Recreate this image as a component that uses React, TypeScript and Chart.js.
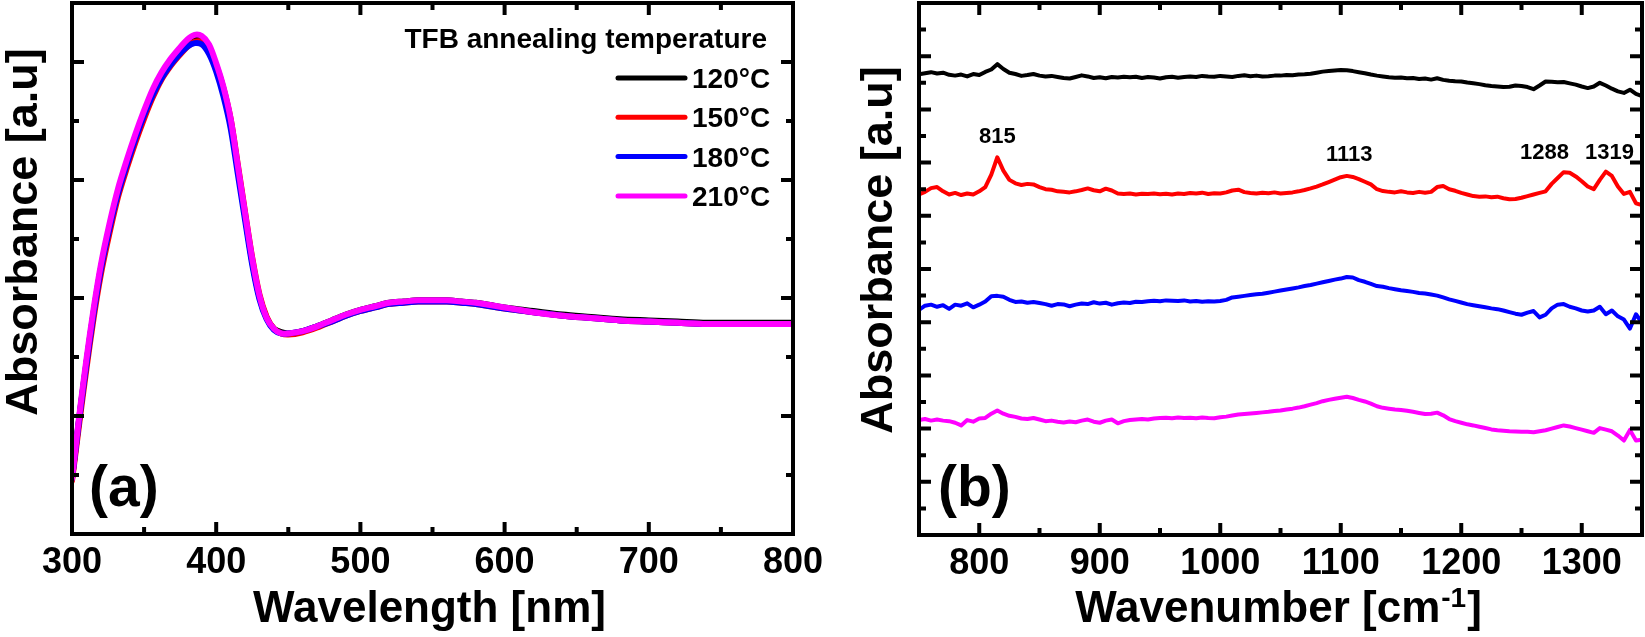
import React, { useEffect, useRef } from "react";
import { Chart, registerables } from "chart.js";

Chart.register(...registerables);

const FONT = '"Liberation Sans", Arial, Helvetica, sans-serif';

const seriesLabels = ["120°C", "150°C", "180°C", "210°C"];
const seriesColors = ["#000000", "#ff0000", "#0000ff", "#ff00ff"];

// ---------- (a) UV-vis absorbance ----------
const uvWavelength = [300, 303, 306, 310, 315, 320, 326, 332, 338, 344, 350, 356, 362, 368, 374, 380, 385, 390, 395, 400, 405, 410, 415, 420, 425, 430, 435, 440, 445, 450, 460, 470, 480, 490, 500, 510, 520, 530, 540, 550, 560, 570, 580, 590, 600, 620, 640, 660, 680, 700, 720, 740, 760, 780, 800];
const uv120 = [0.47, 0.78, 1.08, 1.45, 1.88, 2.25, 2.60, 2.90, 3.14, 3.36, 3.56, 3.74, 3.88, 3.99, 4.08, 4.16, 4.20, 4.19, 4.12, 3.97, 3.77, 3.50, 3.10, 2.70, 2.31, 2.01, 1.83, 1.74, 1.71, 1.70, 1.72, 1.76, 1.81, 1.86, 1.90, 1.93, 1.96, 1.97, 1.98, 1.98, 1.98, 1.97, 1.96, 1.94, 1.92, 1.89, 1.86, 1.84, 1.82, 1.81, 1.80, 1.79, 1.79, 1.79, 1.79];
const uv150 = [0.45, 0.74, 1.03, 1.40, 1.83, 2.20, 2.55, 2.86, 3.10, 3.32, 3.52, 3.70, 3.85, 3.96, 4.05, 4.13, 4.17, 4.17, 4.11, 3.97, 3.78, 3.52, 3.13, 2.73, 2.34, 2.03, 1.84, 1.74, 1.70, 1.69, 1.71, 1.75, 1.80, 1.85, 1.89, 1.92, 1.95, 1.96, 1.97, 1.97, 1.97, 1.96, 1.95, 1.93, 1.91, 1.88, 1.85, 1.83, 1.81, 1.80, 1.79, 1.78, 1.78, 1.78, 1.78];
const uv180 = [0.47, 0.77, 1.07, 1.44, 1.87, 2.24, 2.59, 2.89, 3.13, 3.35, 3.55, 3.72, 3.86, 3.97, 4.06, 4.13, 4.16, 4.15, 4.07, 3.92, 3.71, 3.44, 3.05, 2.66, 2.28, 1.99, 1.82, 1.73, 1.70, 1.70, 1.72, 1.76, 1.80, 1.85, 1.89, 1.92, 1.95, 1.96, 1.97, 1.97, 1.97, 1.96, 1.95, 1.93, 1.91, 1.88, 1.85, 1.83, 1.81, 1.80, 1.79, 1.78, 1.78, 1.78, 1.78];
const uv210 = [0.47, 0.79, 1.10, 1.48, 1.91, 2.28, 2.63, 2.93, 3.17, 3.39, 3.59, 3.77, 3.91, 4.02, 4.11, 4.19, 4.23, 4.22, 4.15, 3.99, 3.79, 3.52, 3.12, 2.72, 2.33, 2.02, 1.83, 1.74, 1.70, 1.70, 1.72, 1.76, 1.81, 1.86, 1.90, 1.93, 1.96, 1.97, 1.98, 1.98, 1.98, 1.97, 1.96, 1.94, 1.92, 1.88, 1.85, 1.83, 1.81, 1.80, 1.79, 1.78, 1.78, 1.78, 1.78];
const uvXMajor = [300, 400, 500, 600, 700, 800];
const uvXMinor = [350, 450, 550, 650, 750];
const uvYMajor = [0, 1, 2, 3, 4];
const uvYMinor = [0.5, 1.5, 2.5, 3.5];

// ---------- (b) FTIR absorbance (offset traces) ----------
const irWavenumber = [
  750, 755, 760, 765, 770, 775, 780, 785, 790, 795,
  800, 805, 810, 815, 820, 825, 830, 835, 840, 845,
  850, 855, 860, 865, 870, 875, 880, 885, 890, 895,
  900, 905, 910, 915, 920, 925, 930, 935, 940, 945,
  950, 955, 960, 965, 970, 975, 980, 985, 990, 995,
  1000, 1005, 1010, 1015, 1020, 1025, 1030, 1035, 1040, 1045,
  1050, 1055, 1060, 1065, 1070, 1075, 1080, 1085, 1090, 1095,
  1100, 1105, 1110, 1115, 1120, 1125, 1130, 1135, 1140, 1145,
  1150, 1155, 1160, 1165, 1170, 1175, 1180, 1185, 1190, 1195,
  1200, 1205, 1210, 1215, 1220, 1225, 1230, 1235, 1240, 1245,
  1250, 1255, 1260, 1265, 1270, 1275, 1280, 1285, 1290, 1295,
  1300, 1305, 1310, 1315, 1320, 1325, 1330, 1335, 1340, 1345,
  1350,
];
const ir120 = [
  17.32, 17.36, 17.40, 17.35, 17.38, 17.30, 17.27, 17.31, 17.24, 17.33,
  17.29, 17.41, 17.50, 17.70, 17.52, 17.38, 17.33, 17.26, 17.29, 17.33,
  17.27, 17.24, 17.26, 17.22, 17.18, 17.16, 17.22, 17.28, 17.24, 17.18,
  17.21, 17.17, 17.22, 17.20, 17.23, 17.21, 17.23, 17.18, 17.22, 17.20,
  17.16, 17.21, 17.23, 17.19, 17.22, 17.24, 17.22, 17.26, 17.24, 17.23,
  17.26, 17.24, 17.22, 17.26, 17.28, 17.25, 17.27, 17.24, 17.25, 17.27,
  17.27, 17.29, 17.28, 17.31, 17.32, 17.34, 17.38, 17.42, 17.44, 17.46,
  17.48, 17.47, 17.44, 17.40, 17.36, 17.31, 17.27, 17.24, 17.21, 17.19,
  17.20, 17.17, 17.18, 17.14, 17.16, 17.12, 17.17, 17.11, 17.08, 17.06,
  17.05, 17.01, 16.98, 16.95, 16.91, 16.88, 16.86, 16.84, 16.85, 16.90,
  16.88, 16.84, 16.76, 16.90, 17.05, 17.04, 17.02, 17.03, 16.98, 16.93,
  16.86, 16.80, 16.86, 17.00, 16.90, 16.78, 16.68, 16.62, 16.74, 16.58,
  16.50,
];
const ir150 = [
  12.80, 12.90, 13.04, 13.08, 12.92, 12.80, 12.86, 12.78, 12.84, 12.80,
  12.92, 13.08, 13.55, 14.20, 13.70, 13.35, 13.22, 13.16, 13.20, 13.18,
  13.08, 13.00, 12.98, 12.92, 12.90, 12.88, 12.92, 12.97, 13.03, 12.96,
  12.92, 13.02, 12.95, 12.84, 12.82, 12.84, 12.80, 12.83, 12.82, 12.84,
  12.81, 12.83, 12.80, 12.84, 12.82, 12.86, 12.84, 12.87, 12.82, 12.85,
  12.84, 12.88, 12.95, 12.98, 12.89, 12.86, 12.84, 12.87, 12.85, 12.88,
  12.84, 12.86, 12.88, 12.92, 12.97, 13.03, 13.10, 13.18, 13.27, 13.36,
  13.45, 13.50, 13.46, 13.38, 13.28, 13.18, 13.00, 12.93, 12.90, 12.88,
  12.92, 12.88, 12.86, 12.90, 12.87, 12.90, 13.08, 13.12, 13.00, 12.94,
  12.86, 12.80, 12.74, 12.72, 12.73, 12.70, 12.72, 12.66, 12.62, 12.63,
  12.68, 12.74, 12.80, 12.86, 12.92, 13.20, 13.42, 13.64, 13.62, 13.48,
  13.30, 13.10, 13.00, 13.35, 13.66, 13.50, 13.10, 12.82, 12.90, 12.47,
  12.40,
];
const ir180 = [
  8.46, 8.62, 8.66, 8.58, 8.64, 8.50, 8.66, 8.62, 8.71, 8.56,
  8.66, 8.78, 8.98, 8.99, 8.96, 8.84, 8.76, 8.78, 8.73, 8.76,
  8.72, 8.68, 8.62, 8.68, 8.67, 8.60, 8.66, 8.70, 8.68, 8.75,
  8.70, 8.73, 8.66, 8.71, 8.74, 8.72, 8.77, 8.76, 8.79, 8.81,
  8.79, 8.82, 8.81, 8.80, 8.82, 8.78, 8.80, 8.77, 8.79, 8.78,
  8.80, 8.84, 8.93, 8.96, 8.99, 9.02, 9.05, 9.07, 9.11, 9.15,
  9.19, 9.23, 9.27, 9.31, 9.36, 9.40, 9.45, 9.50, 9.55, 9.60,
  9.64, 9.70, 9.68, 9.58, 9.52, 9.44, 9.36, 9.33, 9.28, 9.24,
  9.20, 9.17, 9.14, 9.10, 9.08, 9.04, 9.00, 8.93, 8.86, 8.80,
  8.74, 8.68, 8.64, 8.60, 8.56, 8.52, 8.49, 8.44, 8.38, 8.32,
  8.28, 8.36, 8.42, 8.18, 8.28, 8.52, 8.66, 8.68, 8.58, 8.52,
  8.44, 8.40, 8.44, 8.58, 8.30, 8.44, 8.22, 8.10, 7.76, 8.30,
  7.98,
];
const ir210 = [
  4.32, 4.36, 4.30, 4.34, 4.30, 4.28, 4.22, 4.12, 4.32, 4.26,
  4.38, 4.40, 4.56, 4.68, 4.56, 4.48, 4.44, 4.38, 4.36, 4.40,
  4.34, 4.28, 4.30, 4.26, 4.23, 4.27, 4.24, 4.30, 4.34, 4.26,
  4.22, 4.30, 4.34, 4.20, 4.28, 4.32, 4.34, 4.36, 4.34, 4.38,
  4.40, 4.41, 4.39, 4.42, 4.40, 4.41, 4.39, 4.42, 4.40, 4.39,
  4.43, 4.45, 4.49, 4.53, 4.55, 4.57, 4.59, 4.61, 4.63, 4.66,
  4.68, 4.72, 4.75, 4.79, 4.84, 4.90, 4.96, 5.03, 5.08, 5.12,
  5.16, 5.20, 5.15, 5.08, 5.02, 4.94, 4.84, 4.78, 4.75, 4.72,
  4.70, 4.67, 4.63, 4.59, 4.55, 4.56, 4.60, 4.50, 4.36, 4.28,
  4.22, 4.16, 4.12, 4.07, 4.02, 3.97, 3.94, 3.92, 3.90, 3.89,
  3.88, 3.88, 3.86, 3.90, 3.94, 4.00, 4.06, 4.12, 4.08, 4.02,
  3.96, 3.90, 3.84, 4.02, 3.96, 3.90, 3.74, 3.55, 3.95, 3.55,
  3.58,
];
const irXMajor = [800, 900, 1000, 1100, 1200, 1300];
const irXMinor = [850, 950, 1050, 1150, 1250];
const irYMajor = [2, 4, 6, 8, 10, 12, 14, 16, 18];
const irYMinor = [1, 3, 5, 7, 9, 11, 13, 15, 17, 19];
const peakLabels = ["815", "1113", "1288", "1319"];
const peakLabelX = [815, 1107, 1269, 1323];
const peakLabelY = [14.74, 14.06, 14.14, 14.14];

function toPoints(xs: number[], ys: number[]) {
  return xs.map((x, i) => ({ x, y: ys[i] }));
}

function drawFrame(chart: any, xMajor: number[], xMinor: number[], yMajor: number[], yMinor: number[]) {
  const { ctx, chartArea: a } = chart;
  const xs = chart.scales.x;
  const ys = chart.scales.y;
  ctx.save();
  ctx.strokeStyle = "#000";
  ctx.lineWidth = 4;
  ctx.lineCap = "butt";
  ctx.beginPath();
  const xt = (vals: number[], len: number) => {
    for (const v of vals) {
      const p = xs.getPixelForValue(v);
      ctx.moveTo(p, a.bottom);
      ctx.lineTo(p, a.bottom - len);
      ctx.moveTo(p, a.top);
      ctx.lineTo(p, a.top + len);
    }
  };
  const yt = (vals: number[], len: number) => {
    for (const v of vals) {
      const p = ys.getPixelForValue(v);
      ctx.moveTo(a.left, p);
      ctx.lineTo(a.left + len, p);
      ctx.moveTo(a.right, p);
      ctx.lineTo(a.right - len, p);
    }
  };
  xt(xMajor, 12);
  xt(xMinor, 7);
  yt(yMajor, 12);
  yt(yMinor, 7);
  ctx.stroke();
  ctx.strokeRect(a.left, a.top, a.right - a.left, a.bottom - a.top);
  ctx.restore();
}

function drawYTitle(ctx: any, text: string, bx: number, cy: number) {
  ctx.save();
  ctx.fillStyle = "#000";
  ctx.font = `bold 45px ${FONT}`;
  ctx.textAlign = "center";
  ctx.textBaseline = "alphabetic";
  ctx.translate(bx, cy);
  ctx.rotate(-Math.PI / 2);
  ctx.fillText(text, 0, 0);
  ctx.restore();
}

function drawPanelLabel(ctx: any, text: string, x: number, y: number) {
  ctx.save();
  ctx.fillStyle = "#000";
  ctx.font = `bold 57px ${FONT}`;
  ctx.textAlign = "left";
  ctx.textBaseline = "alphabetic";
  ctx.fillText(text, x, y);
  ctx.restore();
}

const panelAPlugin = {
  id: "panelA",
  afterDraw(chart: any) {
    const { ctx, chartArea: a } = chart;
    drawFrame(chart, uvXMajor, uvXMinor, uvYMajor, uvYMinor);
    // legend
    ctx.save();
    ctx.fillStyle = "#000";
    ctx.textBaseline = "alphabetic";
    ctx.font = `bold 28px ${FONT}`;
    ctx.textAlign = "right";
    ctx.fillText("TFB annealing temperature", a.right - 26, 48);
    chart.data.datasets.forEach((ds: any, i: number) => {
      const yy = 78 + i * 39.3;
      ctx.strokeStyle = ds.borderColor;
      ctx.lineWidth = 5;
      ctx.lineCap = "round";
      ctx.beginPath();
      ctx.moveTo(a.right - 175, yy);
      ctx.lineTo(a.right - 108, yy);
      ctx.stroke();
      ctx.font = `bold 28px ${FONT}`;
      ctx.textAlign = "left";
      ctx.fillText(ds.label, a.right - 101, yy + 10);
    });
    ctx.restore();
    drawPanelLabel(ctx, "(a)", a.left + 17, 506);
    drawYTitle(ctx, "Absorbance [a.u]", a.left - 35, 232);
    ctx.save();
    ctx.fillStyle = "#000";
    ctx.font = `bold 44px ${FONT}`;
    ctx.textAlign = "center";
    ctx.textBaseline = "alphabetic";
    ctx.fillText("Wavelength [nm]", (a.left + a.right) / 2 - 3, 622);
    ctx.restore();
  },
};

const panelBPlugin = {
  id: "panelB",
  afterDraw(chart: any) {
    const { ctx, chartArea: a } = chart;
    const xs = chart.scales.x;
    const ys = chart.scales.y;
    drawFrame(chart, irXMajor, irXMinor, irYMajor, irYMinor);
    ctx.save();
    ctx.fillStyle = "#000";
    ctx.font = `bold 22px ${FONT}`;
    ctx.textAlign = "center";
    ctx.textBaseline = "alphabetic";
    peakLabels.forEach((t, i) => {
      ctx.fillText(t, xs.getPixelForValue(peakLabelX[i]), ys.getPixelForValue(peakLabelY[i]));
    });
    ctx.restore();
    drawPanelLabel(ctx, "(b)", a.left + 19, 506);
    drawYTitle(ctx, "Absorbance [a.u]", a.left - 27, 250);
    // x title with superscript
    ctx.save();
    ctx.fillStyle = "#000";
    ctx.textBaseline = "alphabetic";
    ctx.textAlign = "left";
    const main = "Wavenumber [cm";
    const sup = "-1";
    const close = "]";
    ctx.font = `bold 44px ${FONT}`;
    const w1 = ctx.measureText(main).width;
    const w3 = ctx.measureText(close).width;
    ctx.font = `bold 28px ${FONT}`;
    const w2 = ctx.measureText(sup).width;
    const total = w1 + w2 + w3 + 2;
    const x0 = (a.left + a.right) / 2 - 2 - total / 2;
    ctx.font = `bold 44px ${FONT}`;
    ctx.fillText(main, x0, 622);
    ctx.font = `bold 28px ${FONT}`;
    ctx.fillText(sup, x0 + w1 + 1, 607);
    ctx.font = `bold 44px ${FONT}`;
    ctx.fillText(close, x0 + w1 + w2 + 2, 622);
    ctx.restore();
  },
};

function makeConfig(opts: {
  xs: number[];
  series: number[][];
  lineWidth: number;
  tension: number;
  xMin: number;
  xMax: number;
  yMax: number;
  xTicks: number[];
  padding: any;
  yWidth: number;
  xHeight: number;
  plugin: any;
}): any {
  return {
    type: "line",
    data: {
      datasets: opts.series.map((s, i) => ({
        label: seriesLabels[i],
        data: toPoints(opts.xs, s),
        borderColor: seriesColors[i],
        backgroundColor: seriesColors[i],
        borderWidth: opts.lineWidth,
        pointRadius: 0,
        tension: opts.tension,
        fill: false,
        order: opts.series.length - i,
        borderJoinStyle: "round",
        borderCapStyle: "round",
      })),
    },
    options: {
      animation: false,
      responsive: false,
      devicePixelRatio: 1,
      layout: { padding: opts.padding },
      plugins: { legend: { display: false }, tooltip: { enabled: false }, title: { display: false } },
      scales: {
        x: {
          type: "linear",
          min: opts.xMin,
          max: opts.xMax,
          grid: { display: false, drawTicks: false },
          border: { display: false },
          afterBuildTicks: (s: any) => {
            s.ticks = opts.xTicks.map((v) => ({ value: v }));
          },
          afterFit: (s: any) => {
            s.height = opts.xHeight;
          },
          ticks: {
            padding: 7,
            color: "#000",
            maxRotation: 0,
            autoSkip: false,
            callback: (v: any) => String(v),
            font: { family: FONT, size: 36, weight: "bold" },
          },
        },
        y: {
          type: "linear",
          min: 0,
          max: opts.yMax,
          grid: { display: false, drawTicks: false },
          border: { display: false },
          ticks: { display: false },
          afterFit: (s: any) => {
            s.width = opts.yWidth;
          },
        },
      },
    },
    plugins: [opts.plugin],
  };
}

export default function App() {
  const refA = useRef<HTMLCanvasElement>(null);
  const refB = useRef<HTMLCanvasElement>(null);

  useEffect(() => {
    const chartA = new Chart(
      refA.current as HTMLCanvasElement,
      makeConfig({
        xs: uvWavelength,
        series: [uv120, uv150, uv180, uv210],
        lineWidth: 6,
        tension: 0.3,
        xMin: 300,
        xMax: 800,
        yMax: 4.5,
        xTicks: uvXMajor,
        padding: { left: 0, right: 47, top: 3, bottom: 0 },
        yWidth: 72,
        xHeight: 103,
        plugin: panelAPlugin,
      })
    );
    const chartB = new Chart(
      refB.current as HTMLCanvasElement,
      makeConfig({
        xs: irWavenumber,
        series: [ir120, ir150, ir180, ir210],
        lineWidth: 4,
        tension: 0,
        xMin: 750,
        xMax: 1350,
        yMax: 20,
        xTicks: irXMajor,
        padding: { left: 0, right: 3, top: 3, bottom: 0 },
        yWidth: 97,
        xHeight: 102,
        plugin: panelBPlugin,
      })
    );
    return () => {
      chartA.destroy();
      chartB.destroy();
    };
  }, []);

  return (
    <div
      style={{
        position: "fixed",
        left: 0,
        top: 0,
        width: 1645,
        height: 637,
        background: "#ffffff",
        overflow: "hidden",
      }}
    >
      <canvas
        ref={refA}
        width={840}
        height={637}
        style={{ position: "absolute", left: 0, top: 0, width: 840, height: 637 }}
      />
      <canvas
        ref={refB}
        width={823}
        height={637}
        style={{ position: "absolute", left: 822, top: 0, width: 823, height: 637 }}
      />
    </div>
  );
}
